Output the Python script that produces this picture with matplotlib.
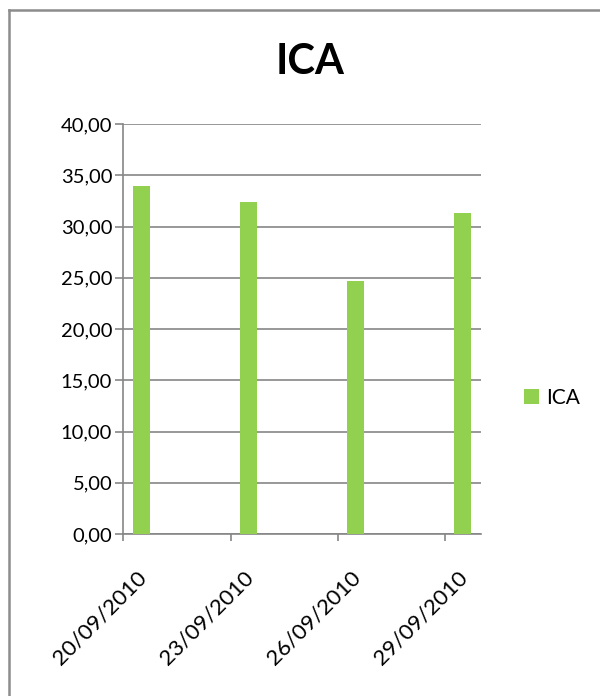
import datetime as dt
import matplotlib
matplotlib.use("Agg")
import matplotlib.pyplot as plt
import matplotlib.transforms as mtransforms
from matplotlib.lines import Line2D

# ---- data ----
dates = ["20/09/2010", "23/09/2010", "26/09/2010", "29/09/2010"]
values = [33.95, 32.40, 24.70, 31.30]
series_name = "ICA"
title = "ICA"
y_ticks = [0, 5, 10, 15, 20, 25, 30, 35, 40]

plt.rcParams['font.family'] = ['Lato', 'DejaVu Sans']

W, H = 600, 696
fig = plt.figure(figsize=(W / 100, H / 100), dpi=100)
fig.patch.set_facecolor("white")

def fx(px):
    return px / W

def fy(py):
    return 1 - py / H

ax = fig.add_axes([fx(123.3), fy(534), fx(480.7) - fx(123.3), fy(124) - fy(534)])

d0 = dt.datetime.strptime(dates[0], "%d/%m/%Y")
days = [(dt.datetime.strptime(d, "%d/%m/%Y") - d0).days for d in dates]
n_days = days[-1] + 1

grey = "#868686"
green = "#92D050"

centers = [d + 0.5 for d in days]
bars = ax.bar(centers, values, width=0.47, color=green, label=series_name, zorder=3)

ax.set_xlim(0, n_days)
ax.set_ylim(0, 40)
ax.set_yticks(y_ticks)
ax.set_yticklabels([f"{v:.2f}".replace(".", ",") for v in y_ticks])
ax.set_xticks(days)
ax.set_xticklabels([])

ax.yaxis.grid(True, color=grey, linewidth=1.2, zorder=0)
ax.set_axisbelow(True)
for s in ["top", "right"]:
    ax.spines[s].set_visible(False)
for s in ["left", "bottom"]:
    ax.spines[s].set_color(grey)
    ax.spines[s].set_linewidth(1.2)
ax.tick_params(axis="y", length=6, width=1.2, color=grey, labelsize=14.5, pad=2, labelcolor="black")
ax.tick_params(axis="x", length=5, width=1.2, color=grey)

# rotated date labels, centred under each day slot
off = mtransforms.ScaledTranslation(0.02, -0.40, fig.dpi_scale_trans)
trans = mtransforms.blended_transform_factory(ax.transData, ax.transAxes) + off
for c, lab in zip(centers, dates):
    ax.text(c, 0, lab, transform=trans, rotation=45, rotation_mode="anchor",
            ha="right", va="center", fontsize=16, color="black")

# title
fig.text(fx(310), fy(62), title, ha="center", va="center", fontsize=30, fontweight="bold")

# legend
ax.legend(handles=[bars], labels=[series_name], loc="center left",
          bbox_to_anchor=(fx(524), fy(398)), bbox_transform=fig.transFigure,
          frameon=False, fontsize=15, borderpad=0, borderaxespad=0,
          handlelength=0.72, handleheight=0.72, handletextpad=0.34)

# outer chart frame (left and top edges visible)
frame_c = "#8c8c8c"
fig.add_artist(Line2D([fx(8.5), fx(8.5)], [fy(10), fy(700)], transform=fig.transFigure,
                      color=frame_c, linewidth=1.8))
fig.add_artist(Line2D([fx(8.5), fx(605)], [fy(10), fy(10)], transform=fig.transFigure,
                      color=frame_c, linewidth=1.8))

fig.savefig("out.png", dpi=100, facecolor="white")
